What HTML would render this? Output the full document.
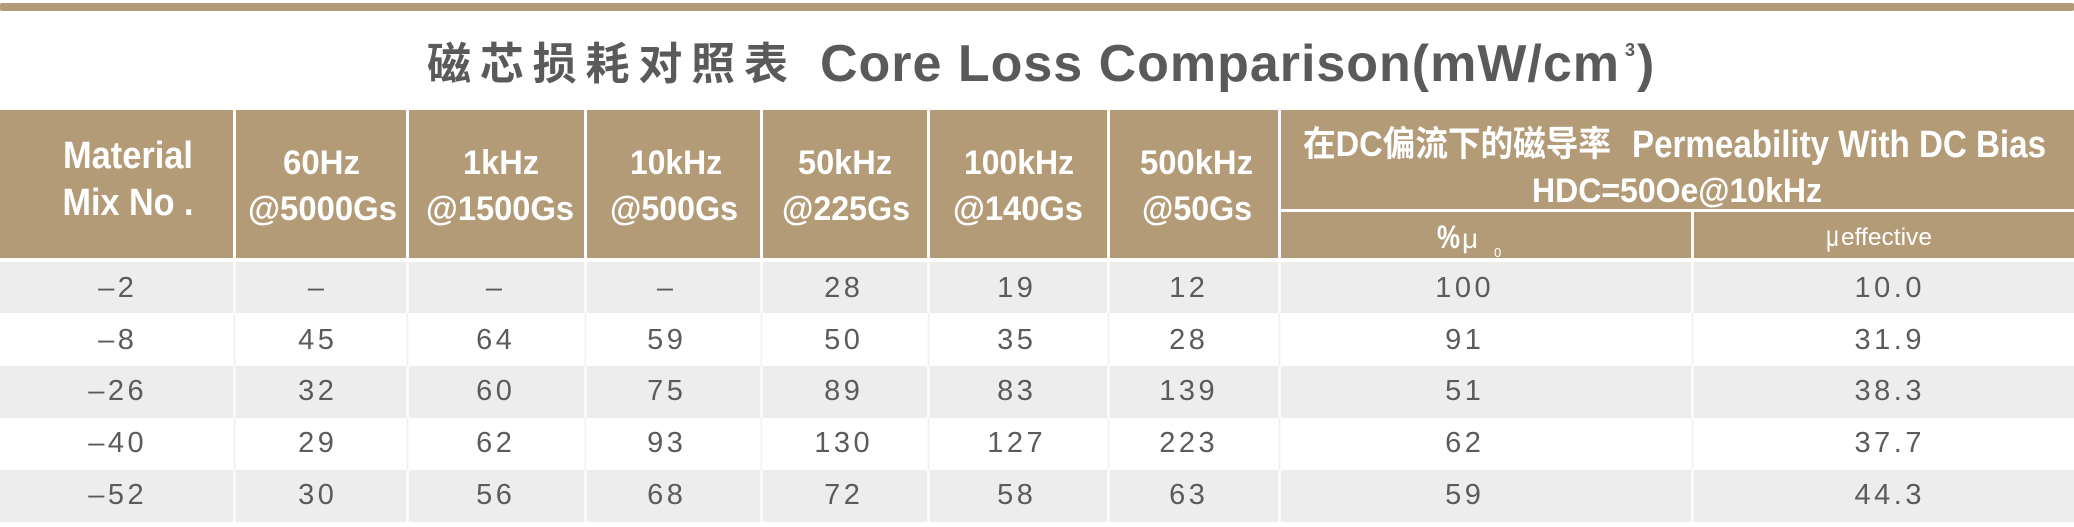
<!DOCTYPE html>
<html>
<head>
<meta charset="utf-8">
<style>
  html, body { margin: 0; padding: 0; background: #ffffff; }
  body { width: 2074px; height: 527px; overflow: hidden; }
  svg { display: block; }
  .hd { font-family: "Liberation Sans", "Noto Sans CJK SC", sans-serif; font-weight: 700; fill: #ffffff; }
  .dt { font-family: "Liberation Sans", sans-serif; font-weight: 400; fill: #5b5b5b; font-size: 29px; letter-spacing: 3.5px; }
  .tt { font-family: "Liberation Sans", "Noto Sans CJK SC", sans-serif; font-weight: 700; fill: #5a5a5a; }
</style>
</head>
<body>
<svg width="2074" height="527" viewBox="0 0 2074 527" xmlns="http://www.w3.org/2000/svg">
  <rect x="0" y="0" width="2074" height="527" fill="#ffffff"/>
  <!-- top bar -->
  <rect x="0" y="3" width="2074" height="8" rx="2" fill="#b39b78"/>

  <!-- title -->
  <text class="tt" x="427" y="79" font-size="44" textLength="361" lengthAdjust="spacing">磁芯损耗对照表</text>
  <text class="tt" x="820" y="81" font-size="52" textLength="799" lengthAdjust="spacing">Core Loss Comparison(mW/cm</text>
  <text class="tt" x="1625" y="56" font-size="18">3</text>
  <text class="tt" x="1637" y="81" font-size="52">)</text>

  <!-- header cells -->
  <g fill="#b39b78">
    <rect x="0" y="110" width="233" height="148"/>
    <rect x="236" y="110" width="170" height="148"/>
    <rect x="409" y="110" width="175" height="148"/>
    <rect x="587" y="110" width="173" height="148"/>
    <rect x="763" y="110" width="164" height="148"/>
    <rect x="930" y="110" width="177" height="148"/>
    <rect x="1110" y="110" width="168" height="148"/>
    <rect x="1281" y="110" width="793" height="99"/>
    <rect x="1281" y="212" width="410" height="46"/>
    <rect x="1694" y="212" width="380" height="46"/>
  </g>

  <!-- data row backgrounds -->
  <g fill="#ededed">
    <rect x="0" y="262" width="2074" height="51"/>
    <rect x="0" y="366" width="2074" height="52"/>
    <rect x="0" y="470" width="2074" height="52"/>
  </g>
  <!-- column separators in data rows -->
  <g fill="#fafafa">
    <rect x="233" y="262" width="3" height="260"/>
    <rect x="406" y="262" width="3" height="260"/>
    <rect x="584" y="262" width="3" height="260"/>
    <rect x="760" y="262" width="3" height="260"/>
    <rect x="927" y="262" width="3" height="260"/>
    <rect x="1107" y="262" width="3" height="260"/>
    <rect x="1278" y="262" width="3" height="260"/>
    <rect x="1691" y="262" width="3" height="260"/>
  </g>
  <g fill="#f0f0f0">
    <rect x="234" y="313" width="1" height="53"/>
    <rect x="407" y="313" width="1" height="53"/>
    <rect x="585" y="313" width="1" height="53"/>
    <rect x="761" y="313" width="1" height="53"/>
    <rect x="928" y="313" width="1" height="53"/>
    <rect x="1108" y="313" width="1" height="53"/>
    <rect x="1279" y="313" width="1" height="53"/>
    <rect x="1692" y="313" width="1" height="53"/>
    <rect x="234" y="418" width="1" height="52"/>
    <rect x="407" y="418" width="1" height="52"/>
    <rect x="585" y="418" width="1" height="52"/>
    <rect x="761" y="418" width="1" height="52"/>
    <rect x="928" y="418" width="1" height="52"/>
    <rect x="1108" y="418" width="1" height="52"/>
    <rect x="1279" y="418" width="1" height="52"/>
    <rect x="1692" y="418" width="1" height="52"/>
  </g>

  <!-- header text -->
  <g class="hd" text-anchor="middle">
    <text x="128" y="168" font-size="38" textLength="130" lengthAdjust="spacingAndGlyphs">Material</text>
    <text x="128" y="215" font-size="38" textLength="131" lengthAdjust="spacingAndGlyphs">Mix No .</text>

    <text x="321.5" y="174" font-size="34" textLength="77" lengthAdjust="spacingAndGlyphs">60Hz</text>
    <text x="322.5" y="220" font-size="34" textLength="149" lengthAdjust="spacingAndGlyphs">@5000Gs</text>

    <text x="501" y="174" font-size="34" textLength="76" lengthAdjust="spacingAndGlyphs">1kHz</text>
    <text x="500" y="220" font-size="34" textLength="148" lengthAdjust="spacingAndGlyphs">@1500Gs</text>

    <text x="676" y="174" font-size="34" textLength="92" lengthAdjust="spacingAndGlyphs">10kHz</text>
    <text x="674" y="220" font-size="34" textLength="128" lengthAdjust="spacingAndGlyphs">@500Gs</text>

    <text x="845" y="174" font-size="34" textLength="94" lengthAdjust="spacingAndGlyphs">50kHz</text>
    <text x="846" y="220" font-size="34" textLength="128" lengthAdjust="spacingAndGlyphs">@225Gs</text>

    <text x="1019" y="174" font-size="34" textLength="110" lengthAdjust="spacingAndGlyphs">100kHz</text>
    <text x="1018" y="220" font-size="34" textLength="130" lengthAdjust="spacingAndGlyphs">@140Gs</text>

    <text x="1196.5" y="174" font-size="34" textLength="113" lengthAdjust="spacingAndGlyphs">500kHz</text>
    <text x="1197" y="220" font-size="34" textLength="110" lengthAdjust="spacingAndGlyphs">@50Gs</text>

    <text x="1677" y="202" font-size="34" textLength="290" lengthAdjust="spacingAndGlyphs">HDC=50Oe@10kHz</text>
  </g>
  <g class="hd">
    <text x="1303" y="156" font-size="35" textLength="308" lengthAdjust="spacingAndGlyphs">在DC偏流下的磁导率</text>
    <text x="1632" y="157" font-size="38" textLength="414" lengthAdjust="spacingAndGlyphs">Permeability With DC Bias</text>
    <text x="1437" y="248" font-size="32" textLength="23" lengthAdjust="spacingAndGlyphs">%</text>
  </g>
  <g font-family="Liberation Sans, sans-serif" fill="#ffffff" font-weight="400">
    <text x="1462" y="248" font-size="28">μ</text>
    <text x="1494" y="257" font-size="13">0</text>
    <text x="1826" y="246" font-size="30" textLength="13" lengthAdjust="spacingAndGlyphs">μ</text>
    <text x="1841" y="245" font-size="24" textLength="91" lengthAdjust="spacingAndGlyphs">effective</text>
  </g>

  <!-- data -->
  <g class="dt" text-anchor="middle">
    <!-- row 1 -->
    <text x="117.75" y="297">–2</text>
    <text x="317.75" y="297">–</text>
    <text x="495.75" y="297">–</text>
    <text x="666.75" y="297">–</text>
    <text x="843.75" y="297">28</text>
    <text x="1016.75" y="297">19</text>
    <text x="1188.75" y="297">12</text>
    <text x="1464.75" y="297">100</text>
    <text x="1889.75" y="297">10.0</text>
    <!-- row 2 -->
    <text x="117.75" y="349">–8</text>
    <text x="317.75" y="349">45</text>
    <text x="495.75" y="349">64</text>
    <text x="666.75" y="349">59</text>
    <text x="843.75" y="349">50</text>
    <text x="1016.75" y="349">35</text>
    <text x="1188.75" y="349">28</text>
    <text x="1464.75" y="349">91</text>
    <text x="1889.75" y="349">31.9</text>
    <!-- row 3 -->
    <text x="117.75" y="400">–26</text>
    <text x="317.75" y="400">32</text>
    <text x="495.75" y="400">60</text>
    <text x="666.75" y="400">75</text>
    <text x="843.75" y="400">89</text>
    <text x="1016.75" y="400">83</text>
    <text x="1188.75" y="400">139</text>
    <text x="1464.75" y="400">51</text>
    <text x="1889.75" y="400">38.3</text>
    <!-- row 4 -->
    <text x="117.75" y="452">–40</text>
    <text x="317.75" y="452">29</text>
    <text x="495.75" y="452">62</text>
    <text x="666.75" y="452">93</text>
    <text x="843.75" y="452">130</text>
    <text x="1016.75" y="452">127</text>
    <text x="1188.75" y="452">223</text>
    <text x="1464.75" y="452">62</text>
    <text x="1889.75" y="452">37.7</text>
    <!-- row 5 -->
    <text x="117.75" y="504">–52</text>
    <text x="317.75" y="504">30</text>
    <text x="495.75" y="504">56</text>
    <text x="666.75" y="504">68</text>
    <text x="843.75" y="504">72</text>
    <text x="1016.75" y="504">58</text>
    <text x="1188.75" y="504">63</text>
    <text x="1464.75" y="504">59</text>
    <text x="1889.75" y="504">44.3</text>
  </g>
</svg>
</body>
</html>
